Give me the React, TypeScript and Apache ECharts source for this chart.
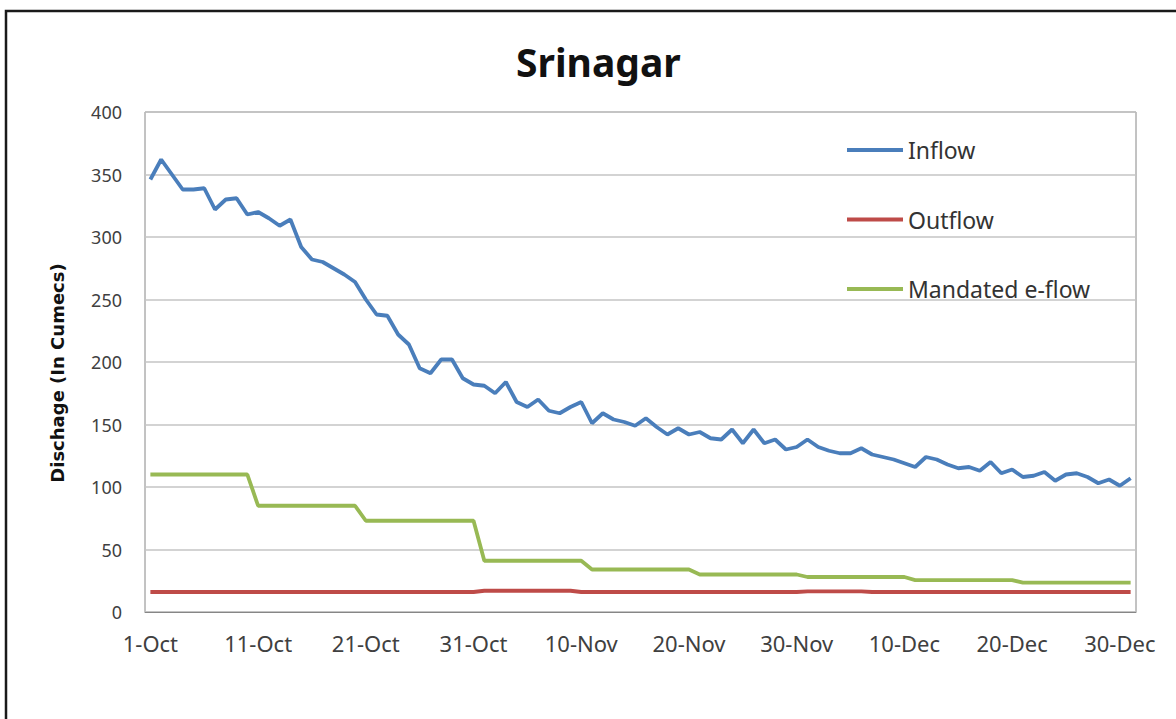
import React, { useEffect, useRef } from "react";
import * as echarts from "echarts";

const monthDays: [string, number][] = [["Oct", 31], ["Nov", 30], ["Dec", 31]];
const dates: string[] = [];
monthDays.forEach(([m, n]) => {
  for (let d = 1; d <= n; d++) dates.push(`${d}-${m}`);
});

const inflow = [
  346, 362, 350, 338, 338, 339, 322, 330, 331, 318,
  320, 315, 309, 314, 292, 282, 280, 275, 270, 264,
  250, 238, 237, 222, 214, 195, 191, 202, 202, 187,
  182, 181, 175, 184, 168, 164, 170, 161, 159, 164,
  168, 151, 159, 154, 152, 149, 155, 148, 142, 147,
  142, 144, 139, 138, 146, 135, 146, 135, 138, 130,
  132, 138, 132, 129, 127, 127, 131, 126, 124, 122,
  119, 116, 124, 122, 118, 115, 116, 113, 120, 111,
  114, 108, 109, 112, 105, 110, 111, 108, 103, 106,
  101, 107,
];

const outflow = [
  16, 16, 16, 16, 16, 16, 16, 16, 16, 16,
  16, 16, 16, 16, 16, 16, 16, 16, 16, 16,
  16, 16, 16, 16, 16, 16, 16, 16, 16, 16,
  16, 17, 17, 17, 17, 17, 17, 17, 17, 17,
  16, 16, 16, 16, 16, 16, 16, 16, 16, 16,
  16, 16, 16, 16, 16, 16, 16, 16, 16, 16,
  16, 16.5, 16.5, 16.5, 16.5, 16.5, 16.5, 16, 16, 16,
  16, 16, 16, 16, 16, 16, 16, 16, 16, 16,
  16, 16, 16, 16, 16, 16, 16, 16, 16, 16,
  16, 16,
];

const eflow = [
  110, 110, 110, 110, 110, 110, 110, 110, 110, 110,
  85, 85, 85, 85, 85, 85, 85, 85, 85, 85,
  73, 73, 73, 73, 73, 73, 73, 73, 73, 73, 73,
  41, 41, 41, 41, 41, 41, 41, 41, 41, 41,
  34, 34, 34, 34, 34, 34, 34, 34, 34, 34,
  30, 30, 30, 30, 30, 30, 30, 30, 30, 30,
  28, 28, 28, 28, 28, 28, 28, 28, 28, 28,
  25.5, 25.5, 25.5, 25.5, 25.5, 25.5, 25.5, 25.5, 25.5, 25.5,
  23.5, 23.5, 23.5, 23.5, 23.5, 23.5, 23.5, 23.5, 23.5, 23.5, 23.5,
];

const seriesNames = ["Inflow", "Outflow", "Mandated e-flow"];
const seriesColors = ["#4A7EBB", "#BE4B48", "#98B954"];
const titleText = "Srinagar";
const yAxisName = "Dischage (In Cumecs)";

export default function App() {
  const ref = useRef<HTMLDivElement>(null);
  useEffect(() => {
    document.body.style.margin = "0";
    const chart = echarts.init(ref.current!, null, { renderer: "svg" });
    const font = "'Noto Sans', 'Open Sans', sans-serif";
    chart.setOption({
      animation: false,
      backgroundColor: "#ffffff",
      title: {
        text: titleText,
        left: 511,
        top: 37,
        textStyle: { fontFamily: font, fontSize: 39, fontWeight: "bold", color: "#111" },
      },
      graphic: [
        {
          type: "rect",
          shape: { x: 6, y: 11, width: 1400, height: 1000 },
          style: { fill: "none", stroke: "#1a1a1a", lineWidth: 2.5 },
          silent: true,
        },
      ],
      legend: {
        orient: "vertical",
        left: 842,
        top: 133,
        icon: "rect",
        itemWidth: 56,
        itemHeight: 4,
        itemGap: 45.5,
        data: seriesNames,
        textStyle: { fontFamily: font, fontSize: 23, color: "#333", lineHeight: 24 },
      },
      grid: {
        left: 145,
        top: 112,
        right: 40,
        bottom: 107,
        show: true,
        borderColor: "#868686",
        borderWidth: 1,
        backgroundColor: "#ffffff",
      },
      xAxis: {
        type: "category",
        data: dates,
        boundaryGap: true,
        axisLine: { show: true, lineStyle: { color: "#868686", width: 1 } },
        axisTick: { show: false },
        axisLabel: {
          interval: 9,
          fontFamily: font,
          fontSize: 22,
          color: "#404040",
          margin: 20,
        },
        splitLine: { show: false },
      },
      yAxis: {
        type: "value",
        min: 0,
        max: 400,
        interval: 50,
        name: yAxisName,
        nameLocation: "middle",
        nameGap: 79,
        nameTextStyle: {
          fontFamily: "'DejaVu Sans', sans-serif",
          fontSize: 18,
          fontWeight: "bold",
          color: "#111",
          padding: [0, 22, 0, 0],
        },
        axisLine: { show: false },
        axisTick: { show: false },
        axisLabel: { fontFamily: font, fontSize: 18, color: "#404040", margin: 23 },
        splitLine: { show: true, lineStyle: { color: "#c4c4c4", width: 1.5 } },
      },
      series: [
        { name: seriesNames[0], data: inflow },
        { name: seriesNames[1], data: outflow },
        { name: seriesNames[2], data: eflow },
      ].map((s, i) => ({
        ...s,
        type: "line",
        symbol: "none",
        showSymbol: false,
        color: seriesColors[i],
        lineStyle: { color: seriesColors[i], width: 3.8 },
        z: 3 - i,
      })),
    });
    return () => chart.dispose();
  }, []);
  return <div ref={ref} style={{ width: 1176, height: 719 }} />;
}
